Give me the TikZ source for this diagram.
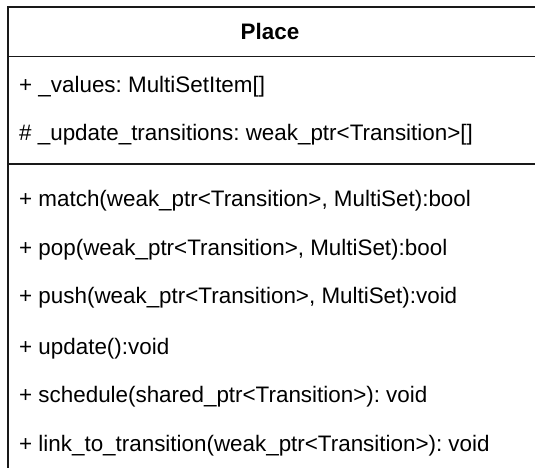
\documentclass[tikz,border=0pt]{standalone}
\usepackage{fontspec}
\setmainfont{Liberation Sans}
\frenchspacing
\begin{document}
\begin{tikzpicture}[x=1pt,y=-1pt,
  boxline/.style={line width=1.8pt,draw=black!90},
  member/.style={anchor=base west,inner sep=0pt,font=\fontsize{22.4}{26}\selectfont},
  titletext/.style={anchor=base,inner sep=0pt,font=\fontsize{22.4}{26}\selectfont\bfseries}]
\useasboundingbox (0,0) rectangle (535,468);
\clip (0,0) rectangle (535,468);
\draw[boxline] (8,7) rectangle (560,490);
\coordinate (d1l) at (8,56.5);
\coordinate (d1r) at (560,56.5);
\coordinate (d2l) at (8,164);
\coordinate (d2r) at (560,164);
\draw[boxline] (d1l) -- (d1r);
\draw[boxline] (d2l) -- (d2r);
\node[titletext] (title) at (270,39.3) {Place};
\node[member] (a1) at (19,93) {+ \_values: MultiSetItem[]};
\node[member] (a2) at (19,140.5) {\# \_update\_transitions: weak\_ptr<Transition>[]};
\node[member] (m1) at (19,206) {+ match(weak\_ptr<Transition>, MultiSet):bool};
\node[member] (m2) at (19,255) {+ pop(weak\_ptr<Transition>, MultiSet):bool};
\node[member] (m3) at (19,303.5) {+ push(weak\_ptr<Transition>, MultiSet):void};
\node[member] (m4) at (19,354) {+ update():void};
\node[member] (m5) at (19,402.5) {+ schedule(shared\_ptr<Transition>): void};
\node[member] (m6) at (19,451.5) {+ link\_to\_transition(weak\_ptr<Transition>): void};
\end{tikzpicture}
\end{document}
